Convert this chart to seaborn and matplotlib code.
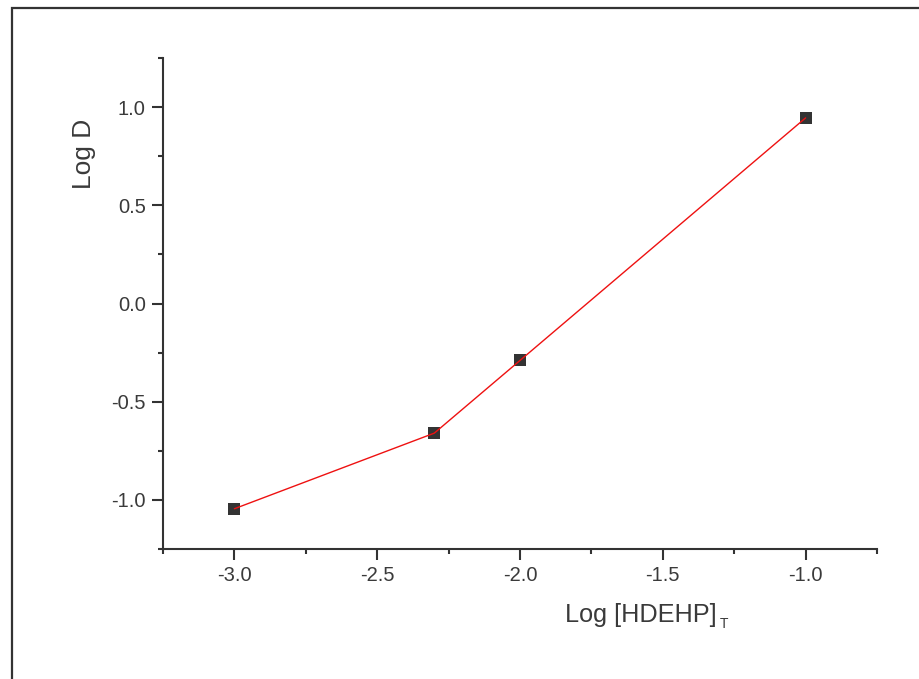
import matplotlib
matplotlib.use("Agg")
import matplotlib.pyplot as plt
import seaborn as sns
import pandas as pd
from matplotlib.ticker import MultipleLocator
from matplotlib.patches import Rectangle

# data
log_hdehp = [-3.0, -2.3, -2.0, -1.0]
log_d = [-1.045, -0.66, -0.29, 0.945]

df = pd.DataFrame({"log_hdehp": log_hdehp, "log_d": log_d})

sns.set_style("ticks")
plt.rcParams['font.family'] = ['Liberation Sans', 'DejaVu Sans']

dark = "#333333"
txt = "#3a3a3a"
fig = plt.figure(figsize=(9.19, 6.79), dpi=100)
ax = fig.add_axes([163 / 919, 1 - 549 / 679, 714 / 919, 491 / 679])

# markers under the line, like the original
sns.scatterplot(data=df, x="log_hdehp", y="log_d", marker="s", s=72,
                color=dark, edgecolor=dark, linewidth=0, zorder=2, ax=ax)
sns.lineplot(data=df, x="log_hdehp", y="log_d", color="#ee1111",
             linewidth=1.0, zorder=3, ax=ax)

ax.set_xlim(-3.25, -0.75)
ax.set_ylim(-1.25, 1.25)
ax.xaxis.set_major_locator(MultipleLocator(0.5))
ax.xaxis.set_minor_locator(MultipleLocator(0.25))
ax.yaxis.set_major_locator(MultipleLocator(0.5))
ax.yaxis.set_minor_locator(MultipleLocator(0.25))
ax.xaxis.set_major_formatter(lambda v, p: f"{v:.1f}")
ax.yaxis.set_major_formatter(lambda v, p: f"{v:.1f}")

for side in ["top", "right"]:
    ax.spines[side].set_visible(False)
for side in ["left", "bottom"]:
    ax.spines[side].set_color(dark)
    ax.spines[side].set_linewidth(1.5)

ax.tick_params(which="major", direction="out", length=8, width=1.5,
               color=dark, labelsize=14.5, labelcolor=txt, pad=4.5)
ax.tick_params(which="minor", direction="out", length=3.6, width=1.5, color=dark)

ax.set_xlabel("Log [HDEHP]", fontsize=18.2, color=txt)
ax.xaxis.label.set_ha("left")
ax.xaxis.label.set_va("baseline")
ax.xaxis.set_label_coords(402 / 714, -73 / 491)
# small subscript T after the bracket
fig.text(719.5 / 919, 1 - 628 / 679, "T", fontsize=10, color=txt,
         ha="left", va="baseline")

ax.set_ylabel("Log D", fontsize=19, color=txt)
ax.yaxis.label.set_va("center")
ax.yaxis.set_label_coords(-0.111, 0.804)

# outer frame like the exported Origin page
fig.patches.append(Rectangle((12 / 919, -0.05), 1.0, 1.05 - 8 / 679,
                             transform=fig.transFigure, fill=False,
                             edgecolor=dark, linewidth=1.6))

fig.savefig("out.png", dpi=100)
